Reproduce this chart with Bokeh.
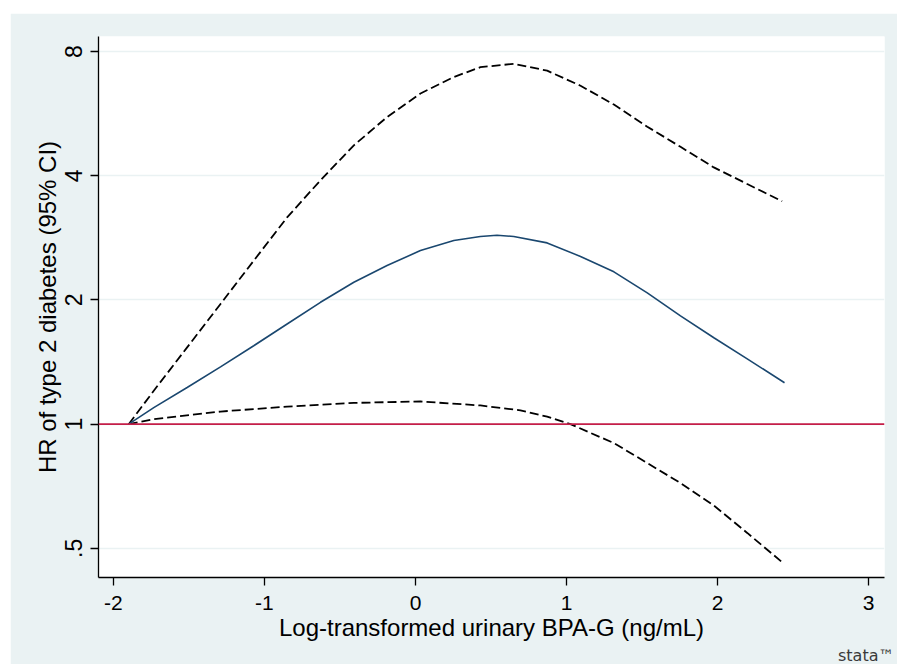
import math
from bokeh.plotting import figure
from bokeh.models import FixedTicker, Span, Title, CustomJSTickFormatter, Spacer
from bokeh.layouts import column, row
from bokeh.embed import file_html
from bokeh.resources import INLINE

# Data
bpa_x = [-1.899, -1.733, -1.512, -1.291, -1.071, -0.85, -0.629, -0.408, -0.188, 0.033,
         0.254, 0.43, 0.54, 0.651, 0.872, 1.093, 1.314, 1.535, 1.755, 1.976, 2.197, 2.444]
hr = [1.0, 1.097, 1.227, 1.377, 1.549, 1.749, 1.974, 2.207, 2.423, 2.635,
      2.786, 2.85, 2.87, 2.85, 2.75, 2.55, 2.34, 2.08, 1.83, 1.62, 1.44, 1.26]

upper_x = [-1.899, -1.733, -1.512, -1.291, -1.071, -0.85, -0.629, -0.408, -0.188, 0.033,
           0.254, 0.43, 0.651, 0.872, 1.093, 1.314, 1.535, 1.755, 1.976, 2.197, 2.428]
upper = [1.0, 1.205, 1.535, 1.956, 2.49, 3.17, 3.90, 4.74, 5.55, 6.33,
         6.94, 7.33, 7.47, 7.19, 6.61, 5.95, 5.26, 4.70, 4.19, 3.82, 3.47]

lower_x = [-1.899, -1.733, -1.291, -0.85, -0.408, 0.033, 0.43, 0.695, 0.872, 1.026,
           1.314, 1.535, 1.755, 1.976, 2.197, 2.428]
lower = [1.0, 1.028, 1.073, 1.103, 1.126, 1.135, 1.11, 1.08, 1.043, 1.0,
         0.90, 0.805, 0.72, 0.635, 0.545, 0.463]

ref_hr = 1.0
x_ticks = [-2, -1, 0, 1, 2, 3]
y_ticks = [0.5, 1, 2, 4, 8]

BG = "#EAF2F3"
FONT = "Liberation Sans"

p = figure(width=887, height=651, output_backend="svg", toolbar_location=None,
           y_axis_type="log", x_range=(-2.099, 3.106), y_range=(0.425, 8.70),
           min_border_left=88, min_border_right=13, min_border_top=23, min_border_bottom=87)
p.border_fill_color = BG
p.background_fill_color = "white"
p.outline_line_color = None

# grid
p.xgrid.visible = False
p.ygrid.ticker = FixedTicker(ticks=y_ticks)
p.ygrid.grid_line_color = BG
p.ygrid.grid_line_width = 1.6

# axes
for ax in (p.xaxis[0], p.yaxis[0]):
    ax.axis_line_color = "black"
    ax.axis_line_width = 1.3
    ax.major_tick_line_color = "black"
    ax.major_tick_line_width = 1.3
    ax.major_tick_out = 8
    ax.major_tick_in = 0
    ax.minor_tick_line_color = None
    ax.major_label_text_font = FONT
    ax.major_label_text_color = "black"
    ax.axis_label_text_font = FONT
    ax.axis_label_text_font_style = "normal"
    ax.axis_label_text_color = "black"

p.xaxis.ticker = FixedTicker(ticks=x_ticks)
p.xaxis.formatter = CustomJSTickFormatter(code="return String(tick);")
p.xaxis.major_label_text_font_size = "21px"
p.xaxis.axis_label = "Log-transformed urinary BPA-G (ng/mL)"
p.xaxis.axis_label_text_font_size = "24px"
p.xaxis.major_label_standoff = 10
p.xaxis.axis_label_standoff = 1

p.yaxis.ticker = FixedTicker(ticks=y_ticks)
p.yaxis.formatter = CustomJSTickFormatter(code="return tick == 0.5 ? '.5' : String(tick);")
p.yaxis.major_label_orientation = "parallel"
p.yaxis.major_label_text_font_size = "23px"
p.yaxis.axis_label = "HR of type 2 diabetes (95% CI)"
p.yaxis.axis_label_text_font_size = "24px"
p.yaxis.major_label_standoff = 8
p.yaxis.axis_label_standoff = 2

# reference line
p.add_layout(Span(location=ref_hr, dimension="width", line_color="#C41E48", line_width=1.6))

# curves
p.line(upper_x, upper, line_color="black", line_width=1.8, line_dash="9 4")
p.line(lower_x, lower, line_color="black", line_width=1.8, line_dash="9 4")
p.line(bpa_x, hr, line_color="#1A476F", line_width=1.6)

# stata logo
p.add_layout(Title(text="stata™", align="right", text_font="DejaVu Sans",
                   text_font_size="16px", text_font_style="normal", text_color="#3A3A3A",
                   standoff=0, offset=-10), "below")

layout = column(Spacer(height=13), row(Spacer(width=10), p))
open("out.html", "w").write(file_html(layout, INLINE))
